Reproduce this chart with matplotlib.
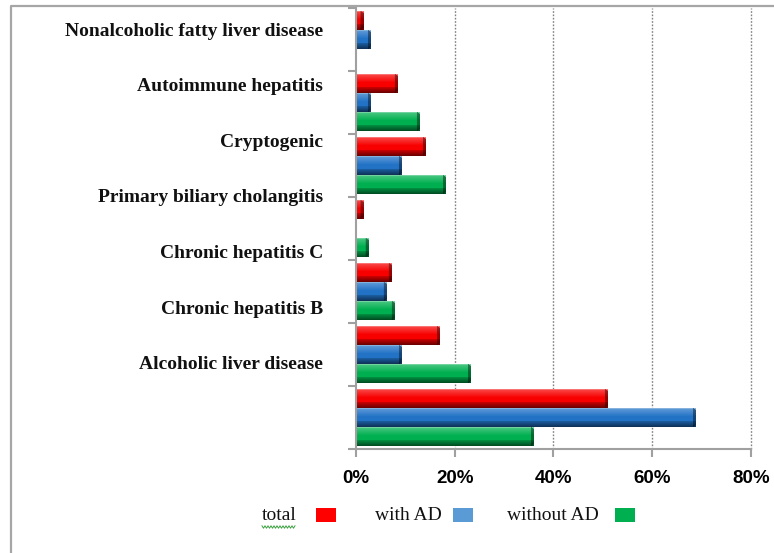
import numpy as np
import matplotlib
matplotlib.use("Agg")
import matplotlib.pyplot as plt
from matplotlib.lines import Line2D
from matplotlib.patches import Rectangle
from matplotlib.colors import to_rgb

# Aetiology of liver disease, share of patients (%)
categories = [
    "Nonalcoholic fatty liver disease",
    "Autoimmune hepatitis",
    "Cryptogenic",
    "Primary biliary cholangitis",
    "Chronic hepatitis C",
    "Chronic hepatitis B",
    "Alcoholic liver disease",
]
total = [1.5, 8.4, 14.0, 1.5, 7.1, 17.0, 50.9]
with_ad = [3.0, 3.0, 9.3, 0.0, 6.1, 9.3, 68.8]
without_ad = [0.0, 12.8, 18.2, 2.5, 7.8, 23.3, 36.0]

series_names = ["total", "with AD", "without AD"]
bar_colors = ["#f80000", "#2273c6", "#00b050"]
legend_colors = ["#ff0000", "#5b9bd5", "#00b050"]
xticks = [0, 20, 40, 60, 80]

W, H = 774, 553
fig = plt.figure(figsize=(W / 100, H / 100), dpi=100)


def fx(x):
    return x / W


def fy(y):
    return 1 - y / H


ax = fig.add_axes([fx(356), fy(449), fx(750.7) - fx(356), fy(8) - fy(449)])


def bevel_image(color, w_px, h_px, bev=3):
    """Bar fill with a light top edge and dark bottom/right bevel."""
    base = np.array(to_rgb(color))
    white = np.ones(3)
    black = np.zeros(3)
    img = np.empty((h_px, w_px, 3))
    for r in range(h_px):
        t = r / (h_px - 1)
        if r == 0:
            c = base * 0.55 + white * 0.45
        elif t < 0.45:
            k = 0.28 * (1 - t / 0.45)
            c = base * (1 - k) + white * k
        elif t < 0.70:
            c = base
        else:
            k = 0.18 + 0.37 * (t - 0.70) / 0.30
            c = base * (1 - k) + black * k
        img[r, :, :] = c
    # darker right end cap
    for c_i in range(max(w_px - bev, 0), w_px):
        for r in range(h_px):
            if min(r, h_px - 1 - r) >= (c_i - (w_px - bev)):
                img[r, c_i, :] = img[r, c_i, :] * 0.6
    return np.clip(img, 0, 1)


n = len(categories)
ypos = np.arange(n)[::-1]
bar_h = 0.30
offsets = [bar_h, 0.0, -bar_h]
px_per_unit = (750.7 - 356) / 80.0
px_per_cat = (449 - 8) / n

for vals, color, off in zip([total, with_ad, without_ad], bar_colors, offsets):
    for y, v in zip(ypos, vals):
        if v <= 0:
            continue
        w_px = max(int(round(v * px_per_unit)), 2)
        h_px = max(int(round(bar_h * px_per_cat)), 4)
        img = bevel_image(color, w_px, h_px)
        ax.imshow(img, extent=(0, v, y + off - bar_h / 2, y + off + bar_h / 2),
                  origin="upper", aspect="auto", interpolation="bilinear",
                  zorder=3)

ax.set_xlim(0, 80)
ax.set_ylim(-0.5, n - 0.5)

# axes styling
for side in ["top", "right"]:
    ax.spines[side].set_visible(False)
for side in ["left", "bottom"]:
    ax.spines[side].set_color("#a0a0a0")
    ax.spines[side].set_linewidth(1.5)
    ax.spines[side].set_zorder(4)

ax.set_xticks(xticks)
ax.set_xticklabels([f"{t}%" for t in xticks], fontfamily="Liberation Sans",
                   fontweight="bold", fontsize=13.5)
ax.tick_params(axis="x", length=6, width=1.5, color="#a0a0a0", pad=9)
ax.set_yticks(np.arange(-0.5, n, 1.0))
ax.set_yticklabels([])
ax.tick_params(axis="y", length=6, width=1.5, color="#a0a0a0")

for t in xticks[1:]:
    ax.axvline(t, color="#808080", linewidth=1.0, linestyle=(0, (1.2, 1.2)),
               zorder=1, clip_on=False)

# category names
label_top, label_step = 31, 55.6
for i, name in enumerate(categories):
    fig.text(fx(323), fy(label_top + i * label_step), name,
             ha="right", va="center", fontfamily="Liberation Serif",
             fontweight="bold", fontsize=14, color="#111111")

# legend: label followed by colour swatch
legend_text_x = [262, 375, 507]
legend_box_x = [316, 453, 615]
for name, c, tx, bx in zip(series_names, legend_colors, legend_text_x, legend_box_x):
    fig.text(fx(tx), fy(515), name, ha="left", va="center",
             fontfamily="Liberation Serif", fontsize=14, color="#111111")
    fig.add_artist(Rectangle((fx(bx), fy(522)), fx(20), 14 / H,
                             transform=fig.transFigure, facecolor=c,
                             edgecolor="none"))

# spell-check squiggle under "total"
sx = np.linspace(262, 295, 23)
sy = 527 + 1.2 * np.where(np.arange(len(sx)) % 2 == 0, -1, 1)
fig.add_artist(Line2D(fx(sx), fy(sy), transform=fig.transFigure,
                      color="#3aa040", linewidth=0.7))

# outer chart frame
fig.add_artist(Line2D([fx(11), fx(11), fx(780)], [fy(560), fy(6), fy(6)],
                      transform=fig.transFigure, color="#a6a6a6",
                      linewidth=1.6))

fig.savefig("out.png", dpi=100)
